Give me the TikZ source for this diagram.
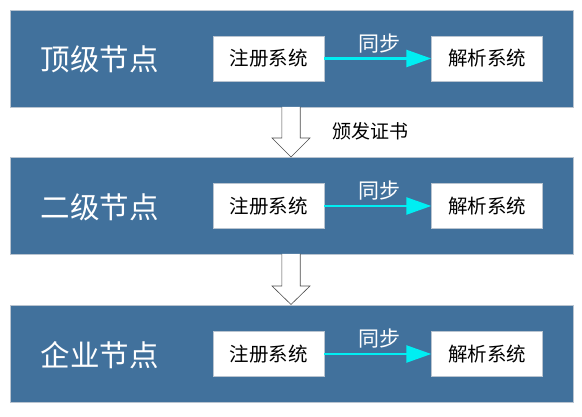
\documentclass[tikz,border=0pt]{standalone}
\usepackage{fontspec}
\setmainfont{Noto Sans CJK SC}
\usetikzlibrary{arrows.meta}
\definecolor{bandblue}{HTML}{41719C}
\definecolor{bandedge}{HTML}{B9C4D0}
\definecolor{syncc}{HTML}{00EEF2}
\tikzset{
  band/.style={draw=bandedge, line width=0.8pt, fill=bandblue, minimum width=563pt, minimum height=97pt, inner sep=0pt},
  title/.style={text=white, font=\fontsize{29.5pt}{32pt}\selectfont, inner sep=0pt},
  sysbox/.style={fill=white, draw=bandedge, line width=0.4pt, minimum width=111pt, minimum height=45pt, inner sep=0pt, font=\fontsize{19.5pt}{22pt}\selectfont},
  synclabel/.style={text=white, font=\fontsize{21pt}{23pt}\selectfont, inner sep=0pt},
  syncarrow/.style={draw=syncc, line width=2.4pt, -{Triangle[length=25pt,width=17pt]}},
  blockarrow/.style={draw=black!70, line width=0.6pt, fill=white},
  certlabel/.style={font=\fontsize{19pt}{21pt}\selectfont, inner sep=0pt}
}
\begin{document}
\begin{tikzpicture}[x=1pt,y=-1pt]
\useasboundingbox (0,0) rectangle (582,417);
% bands
\node[band] (b1) at (291.5,58.5) {};
\node[band] (b2) at (291.5,205.5) {};
\node[band] (b3) at (291.5,353.5) {};
% titles
\node[title] (t1) at (100,59) {顶级节点};
\node[title] (t2) at (100,207) {二级节点};
\node[title] (t3) at (100,355) {企业节点};
% system boxes
\node[sysbox] (r1) at (268.5,58.5) {注册系统};
\node[sysbox] (a1) at (487,58.5) {解析系统};
\node[sysbox] (r2) at (268.5,206) {注册系统};
\node[sysbox] (a2) at (487,206) {解析系统};
\node[sysbox] (r3) at (268.5,354) {注册系统};
\node[sysbox] (a3) at (487,354) {解析系统};
% sync arrows
\draw[syncarrow] (r1.east) -- (a1.west);
\draw[syncarrow] (r2.east) -- (a2.west);
\draw[syncarrow] (r3.east) -- (a3.west);
\node[synclabel] (s1) at (379,43.5) {同步};
\node[synclabel] (s2) at (379,191) {同步};
\node[synclabel] (s3) at (379,339) {同步};
% block arrows
\coordinate (k1) at (291,107);
\coordinate (k2) at (291,254);
\draw[blockarrow] ([xshift=-9.2pt]k1) -- ++(0,31) -- ++(-9.8,0) -- (291,157) -- (310,138) -- ++(-9.8,0) -- ([xshift=9.2pt]k1);
\draw[blockarrow] ([xshift=-9.2pt]k2) -- ++(0,32) -- ++(-9.8,0) -- (291,304.5) -- (310,286) -- ++(-9.8,0) -- ([xshift=9.2pt]k2);
\node[certlabel] (c1) at (370,131.5) {颁发证书};
\end{tikzpicture}
\end{document}
